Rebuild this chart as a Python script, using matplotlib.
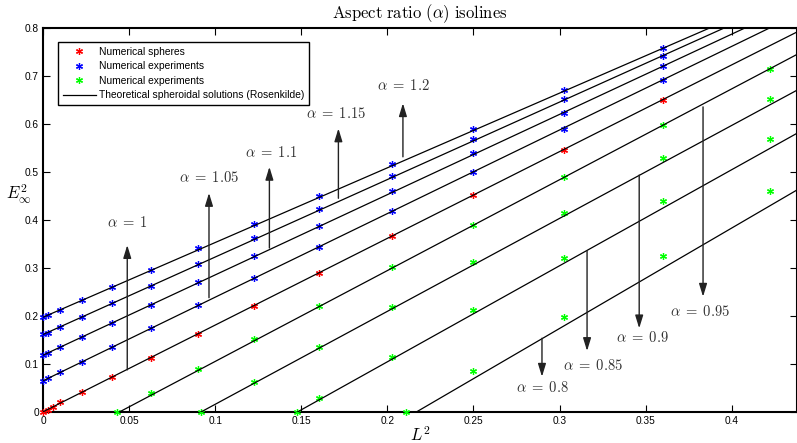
import matplotlib
matplotlib.use("Agg")
import matplotlib.pyplot as plt
import numpy as np

plt.rcParams['mathtext.fontset'] = 'cm'
plt.rcParams['font.family'] = ['Liberation Sans', 'DejaVu Sans']

# ---------------- data ----------------
# L^2 grid of numerical experiments
L2_grid = [0, 0.0025, 0.01, 0.0225, 0.04, 0.0625, 0.09, 0.1225, 0.16, 0.2025, 0.25, 0.3025, 0.36]

# Numerical spheres (alpha = 1)
red_x = [0, 0.0025, 0.005625, 0.01, 0.0225, 0.04, 0.0625, 0.09, 0.1225, 0.16, 0.2025, 0.25, 0.3025, 0.36]
red_y = [0, 0.0045, 0.0101, 0.0196, 0.0417, 0.0717, 0.112, 0.1625, 0.2208, 0.289, 0.366, 0.4515, 0.545, 0.65]

# Numerical experiments, alpha > 1
blue_a120 = [0.198, 0.2008, 0.2119, 0.2327, 0.260, 0.295, 0.3404, 0.3904, 0.4494, 0.516, 0.5896, 0.670, 0.757]
blue_a115 = [0.161, 0.1646, 0.177, 0.197, 0.226, 0.2625, 0.3083, 0.3613, 0.4217, 0.491, 0.5675, 0.6508, 0.7417]
blue_a110 = [0.118, 0.123, 0.1354, 0.156, 0.185, 0.222, 0.2696, 0.3238, 0.3875, 0.459, 0.5383, 0.623, 0.7196]
blue_a105 = [0.0646, 0.0696, 0.082, 0.104, 0.135, 0.1737, 0.2217, 0.278, 0.3431, 0.418, 0.5, 0.5896, 0.691]

# Numerical experiments, alpha < 1
green_a095_x = [0.0427, 0.0625, 0.09, 0.1225, 0.16, 0.2025, 0.25, 0.3025, 0.36, 0.4225]
green_a095_y = [0, 0.038, 0.0896, 0.1508, 0.2208, 0.3015, 0.3896, 0.489, 0.597, 0.7146]
green_a090_x = [0.0915, 0.1225, 0.16, 0.2025, 0.25, 0.3025, 0.36, 0.4225]
green_a090_y = [0, 0.0619, 0.1348, 0.218, 0.3113, 0.4146, 0.528, 0.6515]
green_a085_x = [0.1473, 0.16, 0.2025, 0.25, 0.3025, 0.36, 0.4225]
green_a085_y = [0, 0.0279, 0.114, 0.2112, 0.320, 0.439, 0.5688]
green_a080_x = [0.2107, 0.25, 0.3025, 0.36, 0.4225]
green_a080_y = [0, 0.0854, 0.197, 0.3238, 0.4598]

# Theoretical spheroidal solutions: E^2 at L^2 = 0 and L^2 = 0.45
theory_L2 = [0.0, 0.45]
theory_alpha = [1.2, 1.15, 1.1, 1.05, 1.0, 0.95, 0.9, 0.85, 0.8]
theory_E2 = [
    [0.197, 0.897],
    [0.161, 0.887],
    [0.118, 0.870],
    [0.0646, 0.848],
    [0.0, 0.8127],
    [-0.0843, 0.767],
    [-0.178, 0.693],
    [-0.296, 0.604],
    [-0.454, 0.487],
]

# Annotations: label text, label pos, arrow tail, arrow tip
ann_text = [r'$\alpha \;=\; 1$', r'$\alpha \;=\; 1.05$', r'$\alpha \;=\; 1.1$', r'$\alpha \;=\; 1.15$',
            r'$\alpha \;=\; 1.2$', r'$\alpha \;=\; 0.95$', r'$\alpha \;=\; 0.9$', r'$\alpha \;=\; 0.85$',
            r'$\alpha \;=\; 0.8$']
ann_label_xy = [(0.0488, 0.395), (0.0963, 0.487), (0.1324, 0.541), (0.1702, 0.622), (0.2091, 0.680),
                (0.3818, 0.2077), (0.3479, 0.155), (0.3195, 0.0958), (0.2898, 0.050)]
ann_tail_xy = [(0.0488, 0.087), (0.0963, 0.2375), (0.1314, 0.341), (0.1715, 0.4446), (0.209, 0.531),
               (0.3834, 0.635), (0.3463, 0.493), (0.316, 0.3354), (0.2898, 0.153)]
ann_tip_xy = [(0.0488, 0.347), (0.0963, 0.4556), (0.1314, 0.510), (0.1715, 0.590), (0.209, 0.6425),
              (0.3834, 0.2396), (0.3463, 0.1737), (0.316, 0.1265), (0.2898, 0.0729)]

xticks = [0, 0.05, 0.1, 0.15, 0.2, 0.25, 0.3, 0.35, 0.4]
xtick_labels = ['0', '0.05', '0.1', '0.15', '0.2', '0.25', '0.3', '0.35', '0.4']
yticks = [0, 0.1, 0.2, 0.3, 0.4, 0.5, 0.6, 0.7, 0.8]
ytick_labels = ['0', '0.1', '0.2', '0.3', '0.4', '0.5', '0.6', '0.7', '0.8']

# ---------------- plot ----------------
fig = plt.figure(figsize=(7.97, 4.43), dpi=100)
ax = fig.add_axes([0.0543, 0.0707, 0.9457, 0.8668])

mk = dict(marker=(6, 2, 0), linestyle='none', markersize=5.0, markeredgewidth=0.9, zorder=2.6,
          clip_on=False)

h_red, = ax.plot(red_x, red_y, color='#ff0000', markeredgecolor='#ff0000', **mk)
h_blue = None
for ys in [blue_a120, blue_a115, blue_a110, blue_a105]:
    h_blue, = ax.plot(L2_grid, ys, color='#0000ff', markeredgecolor='#0000ff', **mk)
h_green = None
for xs, ys in [(green_a095_x, green_a095_y), (green_a090_x, green_a090_y),
               (green_a085_x, green_a085_y), (green_a080_x, green_a080_y)]:
    h_green, = ax.plot(xs, ys, color='#00ff00', markeredgecolor='#00ff00', **mk)

h_line = None
for ys in theory_E2:
    h_line, = ax.plot(theory_L2, ys, color='k', linewidth=0.9, zorder=3)

for txt, lxy, txy, hxy in zip(ann_text, ann_label_xy, ann_tail_xy, ann_tip_xy):
    ax.annotate('', xy=hxy, xytext=txy,
                arrowprops=dict(arrowstyle='-|>,head_length=0.65,head_width=0.2', color='#222222',
                                lw=1.0, shrinkA=0, shrinkB=0, mutation_scale=12), zorder=4)
    ax.text(lxy[0], lxy[1], txt, ha='center', va='center', fontsize=10.5, color='#333333', zorder=4)

ax.set_xlim(0, 0.438)
ax.set_ylim(0, 0.8)
ax.set_xticks(xticks)
ax.set_xticklabels(xtick_labels)
ax.set_yticks(yticks)
ax.set_yticklabels(ytick_labels)
ax.tick_params(direction='in', length=5, width=0.8, top=True, right=True, labelsize=7.3, pad=3)
for s in ax.spines.values():
    s.set_linewidth(1.5)

ax.set_title(r'$\mathrm{Aspect\ ratio\ }(\alpha)\mathrm{\ isolines}$', fontsize=12, pad=7)
ax.set_xlabel(r'$L^2$', fontsize=12, va='center')
ax.xaxis.set_label_coords(0.5, -0.061)
ax.set_ylabel(r'$E_\infty^2$', fontsize=12, rotation=0, va='center', ha='center')
ax.yaxis.set_label_coords(-0.033, 0.565)

leg = ax.legend([h_red, h_blue, h_green, h_line],
                ['Numerical spheres', 'Numerical experiments', 'Numerical experiments',
                 'Theoretical spheroidal solutions (Rosenkilde)'],
                loc='upper left', bbox_to_anchor=(0.0199, 0.963), fontsize=7.4, frameon=True,
                fancybox=False, edgecolor='k', framealpha=1, borderpad=0.45, labelspacing=0.45,
                handlelength=3.2, handletextpad=0.35, borderaxespad=0)
leg.get_frame().set_linewidth(1.0)
leg.set_zorder(5)

fig.savefig('out.png', dpi=100)
